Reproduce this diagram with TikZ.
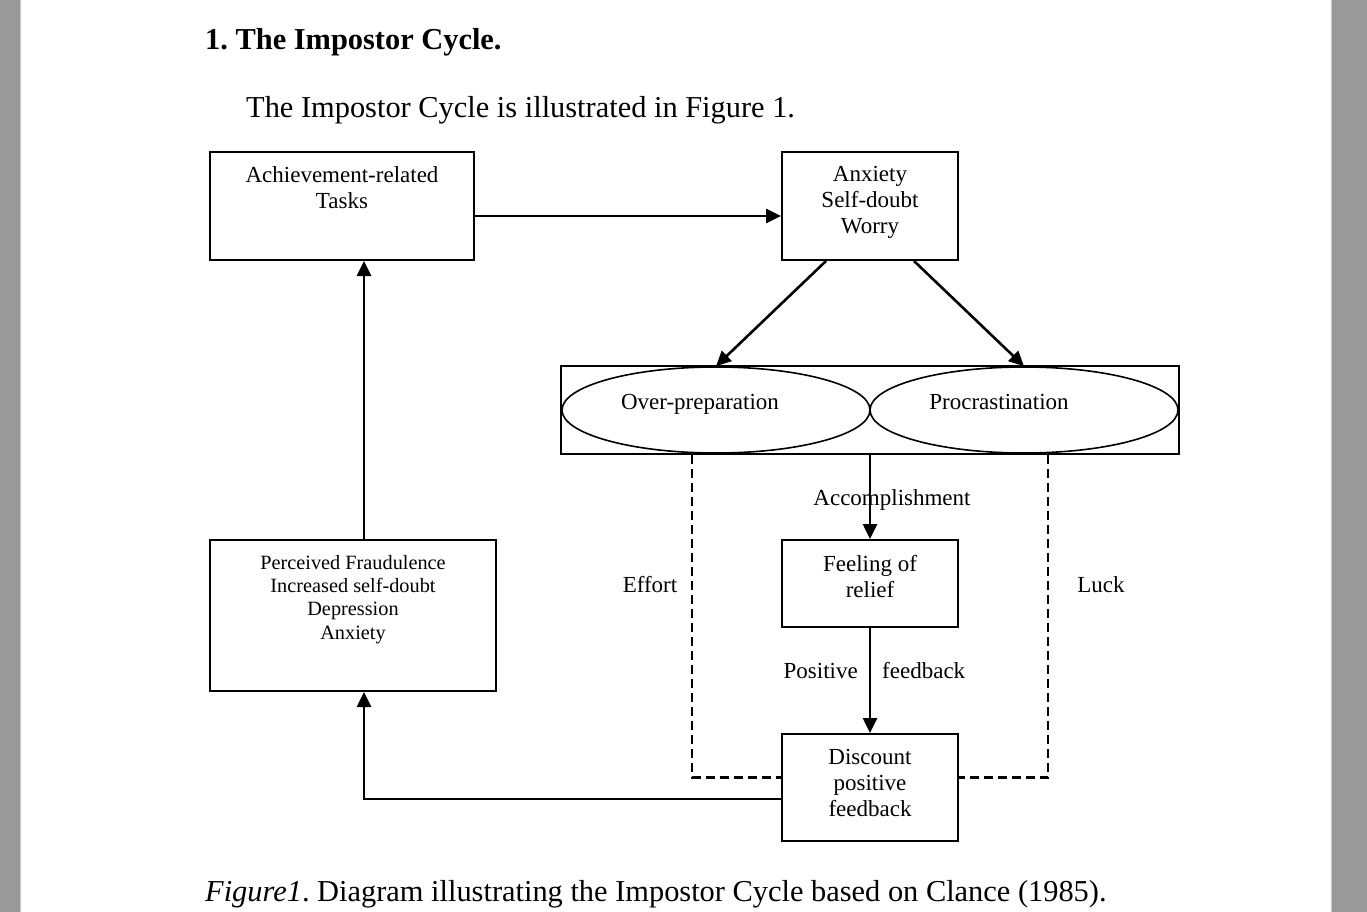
\documentclass[tikz,border=0pt]{standalone}
\usepackage{fontspec}
\setmainfont{Liberation Serif}
\usetikzlibrary{arrows.meta,positioning,shapes.geometric,fit}
\definecolor{pagegray}{HTML}{999999}
\definecolor{edgegray}{HTML}{C6C6C6}
\frenchspacing

\begin{document}
\begin{tikzpicture}[
		x=1pt, y=-1pt,
		box/.style={draw, line width=2pt, inner sep=0pt},
		oval/.style={draw, ellipse, line width=1.6pt, inner sep=0pt,
			minimum width=308pt, minimum height=86pt},
		boxtext/.style={inner sep=0pt, align=center, font=\fontsize{23}{26}\selectfont},
		smalltext/.style={inner sep=0pt, align=center, font=\fontsize{20.3}{23.3}\selectfont},
		lbl/.style={inner sep=0pt, anchor=base, font=\fontsize{23}{26}\selectfont},
		bodytext/.style={inner sep=0pt, anchor=base west, font=\fontsize{30.4}{34}\selectfont},
		arrow/.style={line width=2.6pt, -{Triangle[length=15pt,width=14pt]}},
		dashline/.style={line width=2.2pt, dash pattern=on 9pt off 5pt},
	]

	% page and margins
	\useasboundingbox (0,0) rectangle (1367,912);
	\fill[white] (0,0) rectangle (1367,912);
	\fill[pagegray] (0,0) rectangle (20,912);
	\fill[pagegray] (1331,0) rectangle (1367,912);
	\draw[edgegray, line width=1pt] (20.5,0) -- (20.5,912);
	\draw[edgegray, line width=1pt] (1331,0) -- (1331,912);

	% heading, intro and caption
	\node[bodytext, font=\fontsize{30.4}{34}\selectfont\bfseries] (heading) at (205,50)
	{1. The Impostor Cycle.};
	\node[bodytext] (intro) at (246,117.5) {The Impostor Cycle is illustrated in Figure 1.};
	\node[bodytext] (caption) at (205,901)
	{\textit{Figure1}. Diagram illustrating the Impostor Cycle based on Clance (1985).};

	% boxes
	\node[box, minimum width=264pt, minimum height=108pt] (tasks) at (342,206) {};
	\node[boxtext, below=15pt of tasks.north] (taskstext) {Achievement-related\\Tasks};

	\node[box, minimum width=176pt, minimum height=108pt] (anxiety) at (870,206) {};
	\node[boxtext, below=15pt of anxiety.north] (anxietytext) {Anxiety\\Self-doubt\\Worry};

	\node[oval] (overprep) at (716,410) {};
	\node[oval] (procrast) at (1024,410) {};
	\node[box, fit=(overprep)(procrast)] (strategies) {};
	\node[lbl] (overpreptext) at (700,409) {Over-preparation};
	\node[lbl] (procrasttext) at (999,409) {Procrastination};

	\node[box, minimum width=176pt, minimum height=87pt] (relief) at (870,583.5) {};
	\node[boxtext, below=16pt of relief.north] (relieftext) {Feeling of\\relief};

	\node[box, minimum width=176pt, minimum height=107pt] (discount) at (870,787.5) {};
	\node[boxtext, below=16pt of discount.north] (discounttext) {Discount\\positive\\feedback};

	\node[box, minimum width=286pt, minimum height=151pt] (perceived) at (353,615.5) {};
	\node[smalltext, below=16pt of perceived.north] (perceivedtext)
	{Perceived Fraudulence\\Increased self-doubt\\Depression\\Anxiety};

	% connector labels
	\node[lbl] (accomplish) at (892,505) {Accomplishment};
	\node[lbl] (effort) at (650,592) {Effort};
	\node[lbl] (luck) at (1101,592) {Luck};
	\node[lbl, anchor=base east] (positive) at (858,678) {Positive};
	\node[lbl, anchor=base west] (feedback) at (882,678) {feedback};

	% arrows
	\draw[arrow] ([yshift=-10pt]tasks.east) -- ([yshift=-10pt]anxiety.west);
	\draw[arrow] ([xshift=-44pt]anxiety.south) -- (overprep.north);
	\draw[arrow] ([xshift=44pt]anxiety.south) -- (procrast.north);
	\draw[arrow] (strategies.south) -- (relief.north);
	\draw[arrow] (relief.south) -- (discount.north);
	\draw[arrow] ([yshift=-11.5pt]discount.west) -| ([xshift=11pt]perceived.south);
	\draw[arrow] ([xshift=11pt]perceived.north) -- ([xshift=22pt]tasks.south);

	% effort and luck
	\draw[dashline] ([xshift=132pt]strategies.south west) |- ([yshift=10pt]discount.west);
	\draw[dashline] ([xshift=-132pt]strategies.south east) |- ([yshift=10pt]discount.east);

\end{tikzpicture}
\end{document}
